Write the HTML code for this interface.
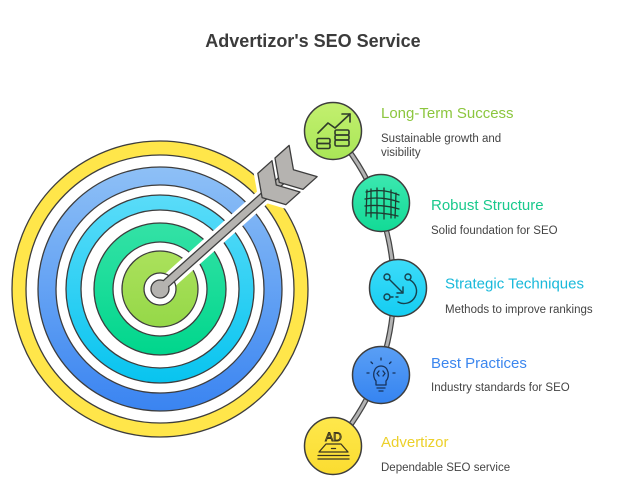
<!DOCTYPE html>
<html><head><meta charset="utf-8"><style>
html,body{margin:0;padding:0;background:#fff;}
svg{display:block;}
text{font-family:"Liberation Sans",Arial,sans-serif;}
</style></head><body>
<svg width="623" height="489" viewBox="0 0 623 489" xmlns="http://www.w3.org/2000/svg">
<defs>
<linearGradient id="gBlue" x1="0" y1="0" x2="0" y2="1"><stop offset="0" stop-color="#8ec0f6"/><stop offset="1" stop-color="#3a84f1"/></linearGradient>
<linearGradient id="gCyan" x1="0" y1="0" x2="0" y2="1"><stop offset="0" stop-color="#5adcf9"/><stop offset="1" stop-color="#08c4ef"/></linearGradient>
<linearGradient id="gGreen" x1="0" y1="0" x2="0" y2="1"><stop offset="0" stop-color="#34e2a6"/><stop offset="1" stop-color="#00d68c"/></linearGradient>
<linearGradient id="gLime" x1="0" y1="0" x2="0" y2="1"><stop offset="0" stop-color="#abe15c"/><stop offset="1" stop-color="#95d848"/></linearGradient>
<linearGradient id="nLime" x1="0" y1="0" x2="0" y2="1"><stop offset="0" stop-color="#c3f06f"/><stop offset="1" stop-color="#a9e657"/></linearGradient>
<linearGradient id="nGreen" x1="0" y1="0" x2="0" y2="1"><stop offset="0" stop-color="#3ce8b0"/><stop offset="1" stop-color="#12da96"/></linearGradient>
<linearGradient id="nCyan" x1="0" y1="0" x2="0" y2="1"><stop offset="0" stop-color="#3ddcf9"/><stop offset="1" stop-color="#14cdf2"/></linearGradient>
<linearGradient id="nBlue" x1="0" y1="0" x2="0" y2="1"><stop offset="0" stop-color="#5a9ff5"/><stop offset="1" stop-color="#3584f1"/></linearGradient>
<linearGradient id="nYellow" x1="0" y1="0" x2="0" y2="1"><stop offset="0" stop-color="#fee84c"/><stop offset="1" stop-color="#fbdc30"/></linearGradient>
</defs>

<text x="313" y="47" text-anchor="middle" font-size="18" font-weight="bold" fill="#3b3b3b">Advertizor's SEO Service</text>

<!-- Target rings -->
<g stroke="#3d3d3d" stroke-width="1.3">
<circle cx="160" cy="289" r="148" fill="#ffe64a"/>
<circle cx="160" cy="289" r="134" fill="#fff"/>
<circle cx="160" cy="289" r="122" fill="url(#gBlue)"/>
<circle cx="160" cy="289" r="104" fill="#fff"/>
<circle cx="160" cy="289" r="94" fill="url(#gCyan)"/>
<circle cx="160" cy="289" r="79" fill="#fff"/>
<circle cx="160" cy="289" r="66" fill="url(#gGreen)"/>
<circle cx="160" cy="289" r="47" fill="#fff"/>
<circle cx="160" cy="289" r="38" fill="url(#gLime)"/>
</g>

<!-- Arrow -->
<g transform="translate(160,289) rotate(-41.8)" stroke-linejoin="round">
<g fill="#fff" stroke="#fff" stroke-width="8">
<rect x="8" y="-4" width="172" height="8"/>
<polygon points="192,-21 173,-21 160,0 173,21 192,21 179,0"/>
<polygon points="169,-21 150,-21 137,0 150,21 169,21 156,0"/>
</g>
<circle cx="0" cy="0" r="16" fill="#fff" stroke="#3d3d3d" stroke-width="1.3"/>
<g fill="#b5b3b0" stroke="#3d3d3d" stroke-width="1.3">
<rect x="6" y="-4" width="172" height="8"/>
<circle cx="0" cy="0" r="9"/>
<polygon points="192,-21 173,-21 160,0 173,21 192,21 179,0"/>
<polygon points="169,-21 150,-21 137,0 150,21 169,21 156,0"/>
</g>
<rect x="4" y="-3.3" width="8" height="6.6" fill="#b5b3b0"/>
</g>

<!-- Connector arc -->
<path d="M333,131 A236,236 0 0,1 333,447" fill="none" stroke="#444" stroke-width="5.5"/>
<path d="M333,131 A236,236 0 0,1 333,447" fill="none" stroke="#b3b3b3" stroke-width="3"/>

<!-- Nodes -->
<g stroke="#3d3d3d" stroke-width="1.5">
<circle cx="333" cy="131" r="28.5" fill="url(#nLime)"/>
<circle cx="381" cy="203" r="28.5" fill="url(#nGreen)"/>
<circle cx="398" cy="288" r="28.5" fill="url(#nCyan)"/>
<circle cx="381" cy="375" r="28.5" fill="url(#nBlue)"/>
<circle cx="333" cy="446" r="28.5" fill="url(#nYellow)"/>
</g>

<!-- Icons -->
<g fill="none" stroke="#2f3b2a" stroke-width="1.6" stroke-linecap="round" stroke-linejoin="round">
<polyline points="318,133 328,123 335,128 350,114"/>
<polyline points="342,114 350,114 350,122"/>
<rect x="317" y="138.5" width="13" height="5" rx="1.5"/>
<rect x="317" y="143.5" width="13" height="5" rx="1.5"/>
<rect x="335" y="130" width="14" height="5" rx="1.5"/>
<rect x="335" y="135" width="14" height="5" rx="1.5"/>
<rect x="335" y="140" width="14" height="6" rx="1.5"/>
</g>
<g fill="none" stroke="#1e3b30" stroke-width="1.3" stroke-linecap="round">
<path d="M366,192 Q382,188 399,195"/>
<path d="M365,199 Q382,196 399,202"/>
<path d="M365,206 Q382,204 399,209"/>
<path d="M366,213 Q382,212 398,216"/>
<path d="M371,189 L371,217"/>
<path d="M377,188 L377,219"/>
<path d="M384,188 L384,219"/>
<path d="M391,190 L391,218"/>
<path d="M367,190 L366,216"/>
<path d="M396,193 L395,218"/>
</g>
<g fill="none" stroke="#16414d" stroke-width="1.4" stroke-linecap="round" stroke-linejoin="round">
<circle cx="387" cy="277" r="3"/>
<circle cx="408" cy="277" r="3"/>
<circle cx="387" cy="297" r="3"/>
<line x1="389.5" y1="279.5" x2="403" y2="293"/>
<polyline points="397,293 403,293 403,287"/>
<line x1="391" y1="297" x2="393" y2="297"/>
<line x1="396" y1="297" x2="398" y2="297"/>
<path d="M410,280 A11,11 0 0 1 398,302"/>
</g>
<g fill="none" stroke="#17335c" stroke-width="1.3" stroke-linecap="round" stroke-linejoin="round">
<path d="M376,381 C372,377 373,366 381,366 C389,366 390,377 386,381 L386,385 L376,385 Z"/>
<line x1="377" y1="388" x2="385" y2="388"/>
<line x1="379" y1="391" x2="383" y2="391"/>
<polyline points="379,371 377,373.5 379,376"/>
<polyline points="383,371 385,373.5 383,376"/>
<line x1="381" y1="358" x2="381" y2="360"/>
<line x1="371" y1="362" x2="372.5" y2="363.5"/>
<line x1="391" y1="362" x2="389.5" y2="363.5"/>
<line x1="367" y1="373" x2="369" y2="373"/>
<line x1="393" y1="373" x2="395" y2="373"/>
</g>
<g fill="none" stroke="#3b3620" stroke-width="1.3" stroke-linecap="round" stroke-linejoin="round">
<polygon points="326,444 341,444 348,452 319,452"/>
<line x1="331.5" y1="448.5" x2="335.5" y2="448.5"/>
<line x1="318" y1="455.5" x2="349" y2="455.5"/>
<line x1="318" y1="459" x2="349" y2="459"/>
</g>
<text x="333.5" y="441" text-anchor="middle" font-size="12" fill="none" stroke="#3b3620" stroke-width="0.9" font-family="Liberation Mono, monospace">AD</text>

<!-- Labels -->
<text x="381" y="118" font-size="15" fill="#8cc63e">Long-Term Success</text>
<text x="381" y="142" font-size="11.5" fill="#444">Sustainable growth and</text>
<text x="381" y="156" font-size="11.5" fill="#444">visibility</text>

<text x="431" y="210" font-size="15" fill="#19c98c">Robust Structure</text>
<text x="431" y="234" font-size="11.5" fill="#444">Solid foundation for SEO</text>

<text x="445" y="288.5" font-size="15" fill="#19b9da">Strategic Techniques</text>
<text x="445" y="313" font-size="11.5" fill="#444">Methods to improve rankings</text>

<text x="431" y="368" font-size="15" fill="#3b86ee">Best Practices</text>
<text x="431" y="391" font-size="11.5" fill="#444">Industry standards for SEO</text>

<text x="381" y="447" font-size="15" fill="#ecd02a">Advertizor</text>
<text x="381" y="471" font-size="11.5" fill="#444">Dependable SEO service</text>
</svg>
</body></html>
